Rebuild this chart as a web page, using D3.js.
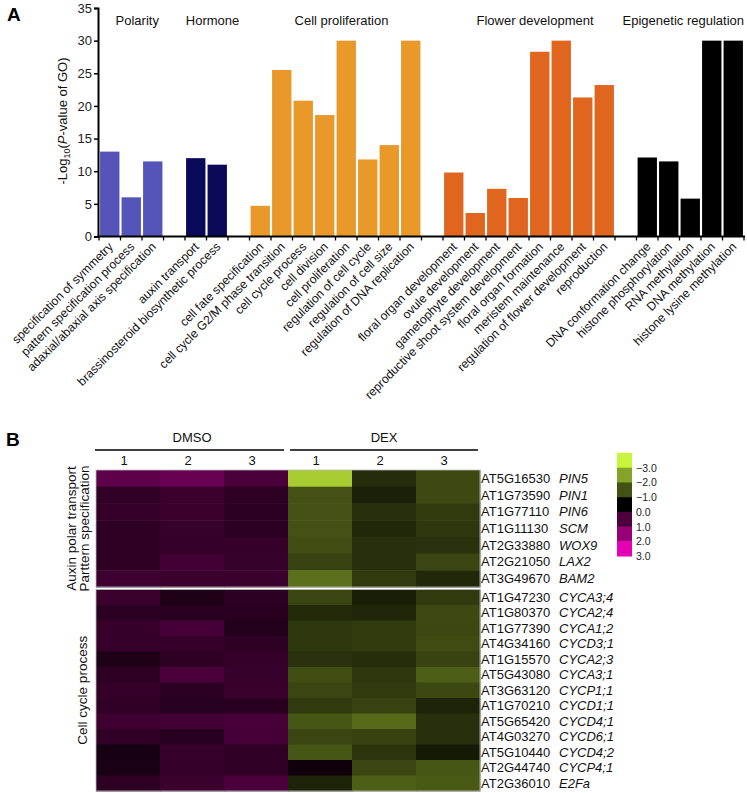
<!DOCTYPE html>
<html><head><meta charset="utf-8">
<script src="https://cdn.jsdelivr.net/npm/d3@7/dist/d3.min.js"></script>
<style>
body{margin:0;background:#fff;}
svg{display:block;font-family:"Liberation Sans",Arial,sans-serif;}
</style></head>
<body>
<svg id="chart" width="747" height="793"></svg>
<script>
// ---------- Panel A data ----------
const groupNames = ["Polarity","Hormone","Cell proliferation","Flower development","Epigenetic regulation"];
const groupColors = ["#5454b9","#0b0a58","#e8992a","#e0661f","#000000"];
const categories = ["specification of symmetry","pattern specification process","adaxial/abaxial axis specification",
  "auxin transport","brassinosteroid biosynthetic process",
  "cell fate specification","cell cycle G2/M phase transition","cell cycle process","cell division","cell proliferation","regulation of cell cycle","regulation of cell size","regulation of DNA replication",
  "floral organ development","ovule development","gametophyte development","reproductive shoot system development","floral organ formation","meristem maintenance","regulation of flower development","reproduction",
  "DNA conformation change","histone phosphorylation","RNA methylation","DNA methylation","histone lysine methylation"];
const values = [13.0,6.0,11.5, 12.0,11.0, 4.7,25.5,20.8,18.6,30,11.8,14.0,30, 9.8,3.6,7.3,5.9,28.3,30,21.3,23.2, 12.1,11.5,5.8,30,30];
const groupOf = [0,0,0, 1,1, 2,2,2,2,2,2,2,2, 3,3,3,3,3,3,3,3, 4,4,4,4,4];
const yTicks = [0,5,10,15,20,25,30,35];

// ---------- Panel B data ----------
const geneIds = ["AT5G16530","AT1G73590","AT1G77110","AT1G11130","AT2G33880","AT2G21050","AT3G49670",
  "AT1G47230","AT1G80370","AT1G77390","AT4G34160","AT1G15570","AT5G43080","AT3G63120","AT1G70210","AT5G65420","AT4G03270","AT5G10440","AT2G44740","AT2G36010"];
const geneNames = ["PIN5","PIN1","PIN6","SCM","WOX9","LAX2","BAM2",
  "CYCA3;4","CYCA2;4","CYCA1;2","CYCD3;1","CYCA2;3","CYCA3;1","CYCP1;1","CYCD1;1","CYCD4;1","CYCD6;1","CYCD4;2","CYCP4;1","E2Fa"];
const moduleOf = [0,0,0,0,0,0,0, 1,1,1,1,1,1,1,1,1,1,1,1,1];
const moduleLabels = [["Auxin polar transport","Parttern specification"],["Cell cycle process"]];
const treatments = ["DMSO","DEX"];
const samples = ["DMSO 1","DMSO 2","DMSO 3","DEX 1","DEX 2","DEX 3"];
const dmso1 = [1.23,0.63,0.68,0.60,0.60,0.60,0.81, 0.76,0.57,0.70,0.70,0.39,0.60,0.68,0.63,0.81,0.63,0.31,0.34,0.60];
const dmso2 = [1.38,0.78,0.78,0.73,0.70,0.86,0.78, 0.39,0.55,0.91,0.70,0.60,0.99,0.57,0.50,0.86,0.50,0.73,0.68,0.76];
const dmso3 = [0.97,0.60,0.57,0.57,0.70,0.73,0.76, 0.57,0.55,0.45,0.60,0.70,0.73,0.76,0.55,0.94,0.91,0.63,0.63,0.99];
const dex1  = [-2.5,-1.0,-1.0,-1.0,-0.96,-0.83,-1.35, -0.86,-0.51,-0.69,-0.69,-0.61,-0.96,-0.86,-0.71,-1.05,-0.86,-1.05,0.2,-0.44];
const dex2  = [-0.54,-0.40,-0.58,-0.49,-0.59,-0.59,-0.71, -0.37,-0.47,-0.71,-0.71,-0.56,-0.69,-0.71,-0.83,-1.30,-0.81,-0.64,-0.86,-1.15];
const dex3  = [-0.90,-0.90,-0.71,-0.69,-0.61,-0.86,-0.49, -0.71,-0.90,-0.88,-0.93,-0.83,-1.15,-0.88,-0.44,-0.59,-0.59,-0.32,-1.05,-1.10];
const legendValues = [-3,-2,-1,0,1,2,3];

const svg = d3.select("#chart");
const FONT = '"Liberation Sans",Arial,sans-serif';

// ================= Panel A =================
svg.append("text").attr("x",7).attr("y",21).attr("font-size",19).attr("font-weight","bold").text("A");

// slot domain: categories with a gap slot between groups
const slots = [];
categories.forEach((c,i)=>{
  if(i>0 && groupOf[i]!==groupOf[i-1]) slots.push("__gap"+groupOf[i]);
  slots.push(c);
});
const x = d3.scaleBand().domain(slots).range([99,744]).paddingInner(0.1).paddingOuter(0.05);
const y = d3.scaleLinear().domain([0,35]).range([236.5,8]);

const gA = svg.append("g");
gA.selectAll("rect.bar").data(categories).join("rect")
  .attr("class","bar")
  .attr("x",d=>x(d)).attr("width",x.bandwidth())
  .attr("y",(d,i)=>y(values[i])).attr("height",(d,i)=>y(0)-y(values[i]))
  .attr("fill",(d,i)=>groupColors[groupOf[i]]);

// y axis
const yAxis = gA.append("g").attr("transform","translate(98,0)")
  .call(d3.axisLeft(y).tickValues(yTicks).tickSize(4).tickPadding(2).tickFormat(d3.format("d")));
yAxis.select(".domain").attr("stroke-width",2);
yAxis.selectAll(".tick line").attr("stroke-width",1.5);
yAxis.selectAll("text").attr("font-size",13).attr("font-family",FONT).attr("fill","#222");

// x axis line and ticks at slot boundaries
gA.append("line").attr("x1",97).attr("x2",745).attr("y1",y(0)).attr("y2",y(0)).attr("stroke","#000").attr("stroke-width",2);
const slotW = (x.range()[1]-x.range()[0])/slots.length;
const bounds = d3.range(slots.length+1).map(i=>x.range()[0] + i*slotW);
gA.selectAll("line.xt").data(bounds).join("line").attr("class","xt")
  .attr("x1",d=>d).attr("x2",d=>d).attr("y1",y(0)).attr("y2",y(0)+4).attr("stroke","#000").attr("stroke-width",1.3);

// x labels
gA.selectAll("text.xl").data(categories).join("text").attr("class","xl")
  .attr("transform",d=>`translate(${x(d)+x.bandwidth()/2+4},${y(0)+11}) rotate(-45)`)
  .attr("text-anchor","end").attr("font-size",12.2).attr("fill","#111").text(d=>d);

// group labels
groupNames.forEach((g,gi)=>{
  const cats = categories.filter((c,i)=>groupOf[i]===gi);
  const c0 = x(cats[0]), c1 = x(cats[cats.length-1])+x.bandwidth();
  let cx = (c0+c1)/2 + 6;
  const t = gA.append("text").attr("y",25).attr("font-size",13).attr("text-anchor","middle").attr("fill","#111").text(g);
  const w = t.node().getComputedTextLength();
  if(cx + w/2 > 744) cx = 744 - w/2;
  t.attr("x",cx);
});

// y title
const yt = gA.append("text").attr("transform","translate(67,121) rotate(-90)").attr("text-anchor","middle").attr("font-size",13).attr("fill","#111");
yt.append("tspan").text("-Log");
yt.append("tspan").attr("font-size",9).attr("dy",3).text("10");
yt.append("tspan").attr("dy",-3).text("(");
yt.append("tspan").attr("font-style","italic").text("P");
yt.append("tspan").text("-value of GO)");

// ================= Panel B =================
svg.append("text").attr("x",6).attr("y",446).attr("font-size",19).attr("font-weight","bold").text("B");

const colData = [dmso1,dmso2,dmso3,dex1,dex2,dex3];
const hx = d3.scaleBand().domain(samples).range([96,480]);
const ids0 = geneIds.filter((g,i)=>moduleOf[i]===0);
const ids1 = geneIds.filter((g,i)=>moduleOf[i]===1);
const hy = [d3.scaleBand().domain(ids0).range([470,587]), d3.scaleBand().domain(ids1).range([589.5,791])];
const color = d3.scaleLinear().domain([-3,0,3]).range(["rgb(200,245,60)","rgb(0,0,0)","rgb(230,0,180)"]).clamp(true);

const cells = [];
geneIds.forEach((g,r)=>samples.forEach((s,c)=>cells.push({g,s,m:moduleOf[r],v:colData[c][r]})));
const gB = svg.append("g");
gB.selectAll("rect.cell").data(cells).join("rect").attr("class","cell")
  .attr("x",d=>hx(d.s)).attr("width",hx.bandwidth()+0.5)
  .attr("y",d=>hy[d.m](d.g)).attr("height",d=>hy[d.m].bandwidth()+0.5)
  .attr("fill",d=>color(d.v));
// module frames
hy.forEach(s=>{
  gB.append("rect").attr("x",96).attr("y",s.range()[0]).attr("width",384).attr("height",s.range()[1]-s.range()[0])
    .attr("fill","none").attr("stroke","#bbb").attr("stroke-width",0.8);
});

// header
treatments.forEach((t,ti)=>{
  const cs = samples.filter(s=>s.startsWith(t));
  const x0 = hx(cs[0]), x1 = hx(cs[cs.length-1])+hx.bandwidth();
  gB.append("line").attr("x1",x0-1+(ti?3:0)).attr("x2",x1+(ti?-2:-4)).attr("y1",450).attr("y2",450).attr("stroke","#000").attr("stroke-width",1.5);
  gB.append("text").attr("x",(x0+x1)/2).attr("y",442).attr("text-anchor","middle").attr("font-size",13).attr("fill","#111").text(t);
});
gB.selectAll("text.col").data(samples).join("text").attr("class","col")
  .attr("x",d=>hx(d)+hx.bandwidth()/2-4).attr("y",465).attr("text-anchor","middle").attr("font-size",13).attr("fill","#111")
  .text(d=>d.split(" ")[1]);

// row labels
geneIds.forEach((g,i)=>{
  const s = hy[moduleOf[i]];
  const t = gB.append("text").attr("x",481).attr("y",s(g)+s.bandwidth()/2+4.5).attr("font-size",13).attr("fill","#111");
  t.append("tspan").text(g);
  t.append("tspan").attr("x",559).attr("font-style","italic").text(geneNames[i]);
});

// module labels (rotated)
moduleLabels.forEach((lines,mi)=>{
  const s = hy[mi];
  const cy = (s.range()[0]+s.range()[1])/2;
  lines.forEach((ln,li)=>{
    const cx = lines.length===2 ? (li===0?76:89) : 87;
    gB.append("text").attr("transform",`translate(${cx},${cy}) rotate(-90)`).attr("text-anchor","middle")
      .attr("font-size",13.5).attr("fill","#111").text(ln);
  });
});

// legend
const ly = d3.scaleBand().domain(legendValues).range([453,556]);
gB.selectAll("rect.leg").data(legendValues).join("rect").attr("class","leg")
  .attr("x",617).attr("width",15).attr("y",d=>ly(d)).attr("height",ly.bandwidth()+0.5).attr("fill",d=>color(d));
gB.selectAll("text.leg").data(legendValues).join("text").attr("class","leg")
  .attr("x",636).attr("y",d=>ly(d)+ly.bandwidth()+4).attr("font-size",10.5).attr("fill","#222")
  .text(d=>d3.format(".1f")(d));
</script>
</body></html>
